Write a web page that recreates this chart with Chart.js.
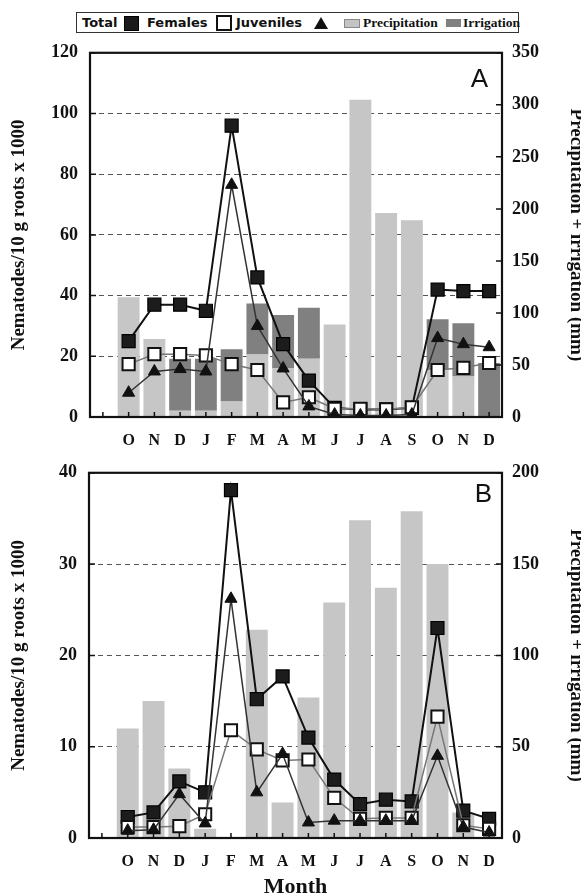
<!DOCTYPE html>
<html>
<head>
<meta charset="utf-8">
<script src="https://cdn.jsdelivr.net/npm/chart.js@4.4.1/dist/chart.umd.min.js"></script>
<style>
  body { margin: 0; background: #fff; width: 581px; height: 896px; overflow: hidden; position: relative; }
  .panel { position: absolute; left: 0; width: 581px; }
  #legend { position: absolute; left: 76px; top: 12px; width: 443px; height: 21px; border: 1.5px solid #333; box-sizing: border-box; }
  #legend span { position: absolute; }
  .lt { top: 1px; font: bold 13px "DejaVu Sans", sans-serif; color: #111; line-height: 17px; }
  .ls { top: 1px; font: bold 13.5px "Liberation Serif", serif; color: #111; line-height: 17px; }
</style>
</head>
<body>
<div id="legend">
  <span class="lt" style="left:5px">Total</span>
  <span style="left:47px; top:3px; width:13px; height:13px; background:#1a1a1a; border:1px solid #000"></span>
  <span class="lt" style="left:70px">Females</span>
  <span style="left:139px; top:2px; width:12px; height:12px; background:#fff; border:2px solid #111"></span>
  <span class="lt" style="left:159px">Juveniles</span>
  <span style="left:237px; top:4px; width:0; height:0; border-left:7px solid transparent; border-right:7px solid transparent; border-bottom:12px solid #111"></span>
  <span style="left:267px; top:6px; width:14px; height:7px; background:#c4c4c4; border:1px solid #888"></span>
  <span class="ls" style="left:286px">Precipitation</span>
  <span style="left:369px; top:6px; width:15px; height:8px; background:#808080"></span>
  <span class="ls" style="left:386px">Irrigation</span>
</div>
<div class="panel" style="top:30px; height:425px"><canvas id="chartA"></canvas></div>
<div class="panel" style="top:450px; height:446px"><canvas id="chartB"></canvas></div>
<script>
// months (first slot is left empty on purpose, as in the figure)
const months = ["", "O", "N", "D", "J", "F", "M", "A", "M", "J", "J", "A", "S", "O", "N", "D"];

// Panel A - nematodes/10 g roots x 1000
const totalA     = [null, 25, 37, 37, 35, 96, 46, 24, 12, 3, 2.5, 2.5, 3, 42, 41.5, 41.5];
const femalesA   = [null, 17.4, 20.7, 20.7, 20.3, 17.4, 15.5, 4.8, 6.5, 2.7, 2.7, 2.5, 3.2, 15.5, 16.2, 17.8];
const juvenilesA = [null, 8, 15, 15.8, 15, 76.5, 30, 16, 3.5, 0.8, 0.5, 0.5, 0.8, 26, 24, 23];
// Panel A - mm
const precipA    = [null, 115, 75, 6, 6, 15, 60, 47, 56, 89, 305, 196, 189, 45, 39, 0];
const irrigA     = [null, 0, 0, 50, 50, 50, 49, 51, 49, 0, 0, 0, 0, 49, 51, 52];

// Panel B - nematodes/10 g roots x 1000
const totalB     = [null, 2.3, 2.8, 6.2, 5, 38.1, 15.2, 17.7, 11, 6.4, 3.7, 4.2, 4, 23, 3, 2.1];
const femalesB   = [null, 1.2, 1.2, 1.3, 2.6, 11.8, 9.7, 8.5, 8.6, 4.4, 2.1, 2.2, 2.2, 13.3, 1.4, 1.0];
const juvenilesB = [null, 0.8, 0.9, 4.8, 1.6, 26.2, 5, 9.2, 1.7, 1.9, 1.9, 1.9, 1.9, 9, 1.2, 0.6];
// Panel B - mm
const precipB    = [null, 60, 75, 38, 5, 0, 114, 19.5, 77, 129, 174, 137, 179, 150, 14, 0];

const serif = "'Liberation Serif', 'Times New Roman', serif";
const leftTitle = "Nematodes/10 g roots x 1000";
const rightTitle = "Precipitation + irrigation (mm)";

// frame, inward ticks and panel letter
const framePlugin = {
    id: "frame",
    afterDraw(chart, args, opts) {
        const { ctx, chartArea: a, scales } = chart;
        ctx.save();
        ctx.strokeStyle = "#111";
        ctx.lineWidth = 1.5;
        ctx.beginPath();
        scales.y.ticks.forEach(t => {
            const y = scales.y.getPixelForValue(t.value);
            ctx.moveTo(a.left, y); ctx.lineTo(a.left + 6, y);
        });
        scales.y1.ticks.forEach(t => {
            const y = scales.y1.getPixelForValue(t.value);
            ctx.moveTo(a.right, y); ctx.lineTo(a.right - 6, y);
        });
        scales.x.ticks.forEach((t, i) => {
            const x = scales.x.getPixelForTick(i);
            ctx.moveTo(x, a.bottom); ctx.lineTo(x, a.bottom - 5);
        });
        ctx.stroke();
        ctx.lineWidth = 2.2;
        ctx.strokeRect(a.left, a.top, a.right - a.left, a.bottom - a.top);
        ctx.fillStyle = "#111";
        ctx.font = "26px 'Liberation Sans', Arial, sans-serif";
        ctx.textAlign = "right";
        ctx.textBaseline = "alphabetic";
        ctx.fillText(opts.letter, a.right - opts.dx, a.top + opts.dy);
        ctx.restore();
    }
};

function lineSet(label, data, style) {
    return Object.assign({ type: "line", label: label, data: data, yAxisID: "y", spanGaps: false }, style);
}

function makeChart(id, cfg) {
    const datasets = [
        lineSet("Total", cfg.total, { borderColor: "#111", borderWidth: 2, pointStyle: "rect", pointRadius: 9.2,
            pointBackgroundColor: "#1c1c1c", pointBorderColor: "#000", pointBorderWidth: 1.2, order: 3 }),
        lineSet("Females", cfg.females, { borderColor: "#777", borderWidth: 1.5, pointStyle: "rect", pointRadius: 8.6,
            pointBackgroundColor: "#fff", pointBorderColor: "#111", pointBorderWidth: 2, order: 2 }),
        lineSet("Juveniles", cfg.juveniles, { borderColor: "#333", borderWidth: 1.5, pointStyle: "triangle", pointRadius: 7,
            pointBackgroundColor: "#111", pointBorderColor: "#111", pointBorderWidth: 1, order: 1 }),
        { type: "bar", label: "Precipitation", data: cfg.precip, yAxisID: "y1", backgroundColor: "#c6c6c6",
            barPercentage: 0.85, categoryPercentage: 1, order: 4 }
    ];
    if (cfg.irrig) {
        datasets.push({ type: "bar", label: "Irrigation", data: cfg.irrig, yAxisID: "y1", backgroundColor: "#808080",
            barPercentage: 0.85, categoryPercentage: 1, order: 5 });
    }

    return new Chart(document.getElementById(id), {
        data: { labels: months, datasets: datasets },
        options: {
            responsive: true,
            maintainAspectRatio: false,
            animation: false,
            layout: { padding: { top: cfg.padTop, left: 0, right: 0, bottom: 0 } },
            plugins: {
                legend: { display: false },
                tooltip: { enabled: false },
                frame: { letter: cfg.letter, dx: cfg.dx, dy: cfg.dy }
            },
            scales: {
                x: {
                    stacked: true,
                    grid: { display: false },
                    border: { display: false },
                    ticks: { color: "#111", padding: 6, maxRotation: 0, autoSkip: false,
                        font: { family: serif, size: 16, weight: "bold" } },
                    title: { display: cfg.monthTitle, text: "Month", color: "#111", padding: { top: 0, bottom: -2 },
                        font: { family: serif, size: 22, weight: "bold", lineHeight: 1 } },
                    afterFit: s => { s.height = cfg.xHeight; }
                },
                y: {
                    position: "left",
                    stacked: false,
                    min: 0, max: cfg.leftMax,
                    ticks: { stepSize: cfg.leftStep, color: "#111", padding: 12,
                        font: { family: serif, size: 18, weight: "bold" } },
                    grid: {
                        drawTicks: false,
                        lineWidth: 1.1,
                        color: c => (c.tick.value === 0 || c.tick.value === cfg.leftMax) ? "rgba(0,0,0,0)" : "#555"
                    },
                    border: { display: false, dash: [5, 4] },
                    title: { display: true, text: leftTitle, color: "#111", padding: { top: 10, bottom: 0 },
                        font: { family: serif, size: 19, weight: "bold", lineHeight: 1 } },
                    afterFit: s => { s.width = cfg.leftWidth; }
                },
                y1: {
                    position: "right",
                    stacked: true,
                    min: 0, max: cfg.rightMax,
                    ticks: { stepSize: 50, color: "#111", padding: 10,
                        font: { family: serif, size: 18, weight: "bold" } },
                    grid: { drawOnChartArea: false, drawTicks: false },
                    border: { display: false },
                    title: { display: true, text: rightTitle, color: "#111", padding: { top: -4, bottom: 0 },
                        font: { family: serif, size: 19, weight: "bold", lineHeight: 1 } },
                    afterFit: s => { s.width = 79; }
                }
            }
        },
        plugins: [framePlugin]
    });
}

makeChart("chartA", {
    total: totalA, females: femalesA, juveniles: juvenilesA, precip: precipA, irrig: irrigA,
    leftMax: 120, leftStep: 20, rightMax: 350, leftWidth: 90,
    padTop: 16, xHeight: 38, monthTitle: false, letter: "A", dx: 14, dy: 34
});

makeChart("chartB", {
    total: totalB, females: femalesB, juveniles: juvenilesB, precip: precipB,
    leftMax: 40, leftStep: 10, rightMax: 200, leftWidth: 89,
    padTop: 8, xHeight: 58, monthTitle: true, letter: "B", dx: 10, dy: 29
});
</script>
</body>
</html>
